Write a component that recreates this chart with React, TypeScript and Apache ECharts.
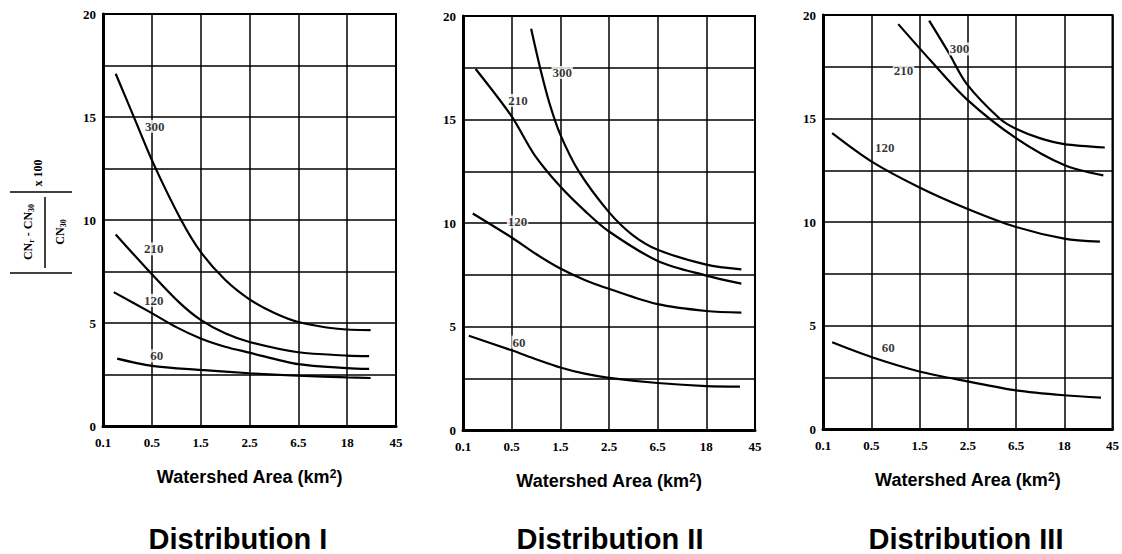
import React, { useEffect, useRef } from "react";
import * as echarts from "echarts";

// ---- data (x in tick-index units: 0→0.1, 1→0.5, 2→1.5, 3→2.5, 4→6.5, 5→18, 6→45) ----
const xTickLabels = ["0.1", "0.5", "1.5", "2.5", "6.5", "18", "45"];
const yTickStep = 2.5;
const curveNames = ["300", "210", "120", "60"];
const panelTitles = ["Distribution I", "Distribution II", "Distribution III"];

const dist1_300 = [[0.26, 17.1], [0.65, 14.9], [1.04, 12.7], [1.6, 10.0], [2, 8.45], [2.5, 7.1], [3, 6.15], [3.5, 5.5], [4, 5.05], [4.8, 4.72], [5.48, 4.65]];
const dist1_210 = [[0.26, 9.3], [0.93, 7.55], [1.56, 6.0], [2, 5.15], [2.5, 4.5], [3, 4.08], [4, 3.58], [5, 3.42], [5.45, 3.39]];
const dist1_120 = [[0.22, 6.5], [1, 5.48], [1.5, 4.8], [2, 4.25], [2.5, 3.85], [3, 3.56], [4, 3.0], [5, 2.81], [5.45, 2.77]];
const dist1_60 = [[0.29, 3.27], [1, 2.92], [2, 2.72], [3, 2.56], [4, 2.44], [5, 2.36], [5.48, 2.33]];

const dist2_300 = [[1.4, 19.38], [1.59, 17.44], [1.78, 15.76], [2, 14.27], [2.38, 12.49], [2.99, 10.55], [3.48, 9.43], [4, 8.71], [5, 7.99], [5.72, 7.76]];
const dist2_210 = [[0.26, 17.44], [1, 15.15], [1.46, 13.32], [2, 11.76], [2.52, 10.55], [3, 9.59], [4, 8.17], [5, 7.46], [5.72, 7.07]];
const dist2_120 = [[0.2, 10.46], [1, 9.3], [1.5, 8.5], [2, 7.8], [2.5, 7.25], [3, 6.82], [4, 6.08], [5, 5.75], [5.72, 5.67]];
const dist2_60 = [[0.12, 4.55], [1, 3.85], [1.5, 3.42], [2, 3.02], [2.5, 2.72], [3, 2.52], [4, 2.27], [5, 2.12], [5.69, 2.1]];

const dist3_300 = [[2.2, 19.73], [2.6, 18.2], [2.97, 16.7], [3.66, 15.0], [4, 14.5], [4.49, 14.05], [5, 13.76], [5.84, 13.6]];
const dist3_210 = [[1.56, 19.56], [2.23, 17.8], [2.97, 15.95], [4, 14.05], [5, 12.75], [5.81, 12.25]];
const dist3_120 = [[0.19, 14.29], [1, 12.93], [2, 11.67], [3, 10.63], [4, 9.76], [5, 9.2], [5.74, 9.05]];
const dist3_60 = [[0.19, 4.19], [1, 3.48], [2, 2.78], [3, 2.3], [4, 1.87], [5, 1.63], [5.76, 1.52]];

const labels1 = [[1.06, 14.55, "300"], [1.04, 8.6, "210"], [1.04, 6.1, "120"], [1.1, 3.4, "60"]];
const labels2 = [[2.04, 17.27, "300"], [1.13, 15.92, "210"], [1.12, 10.05, "120"], [1.15, 4.25, "60"]];
const labels3 = [[2.83, 18.36, "300"], [1.67, 17.3, "210"], [1.28, 13.6, "120"], [1.35, 3.95, "60"]];

const panels = [
  { curves: [dist1_300, dist1_210, dist1_120, dist1_60], labels: labels1 },
  { curves: [dist2_300, dist2_210, dist2_120, dist2_60], labels: labels2 },
  { curves: [dist3_300, dist3_210, dist3_120, dist3_60], labels: labels3 },
];

// ---- layout ----
const gridBoxes = [
  { left: 103, top: 14, width: 293, height: 412 },
  { left: 463, top: 16, width: 292, height: 414 },
  { left: 823, top: 15, width: 290, height: 414 },
];

const tickFont = { fontFamily: "Liberation Serif", fontWeight: "bold" as const, fontSize: 13, color: "#000" };

export default function App() {
  const ref = useRef<HTMLDivElement>(null);
  useEffect(() => {
    if (!ref.current) return;
    const chart = echarts.init(ref.current, undefined, { renderer: "svg" });

    const grid = gridBoxes.map((g) => ({
      ...g,
      show: true,
      borderColor: "#000",
      borderWidth: 2,
      backgroundColor: "transparent",
    }));

    const xAxis = gridBoxes.map((_, i) => ({
      type: "value",
      gridIndex: i,
      min: 0,
      max: 6,
      interval: 1,
      name: "Watershed Area (km{sup|2})",
      nameLocation: "middle",
      nameGap: 42,
      nameTextStyle: {
        fontFamily: "Liberation Sans",
        fontWeight: "bold",
        fontSize: 18,
        color: "#000",
        rich: {
          sup: { fontFamily: "Liberation Sans", fontWeight: "bold", fontSize: 12, verticalAlign: "top", color: "#000" },
        },
      },
      axisLine: { show: true, lineStyle: { color: "#000", width: 3 } },
      axisTick: { show: false },
      axisLabel: { ...tickFont, margin: 10, formatter: (v: number) => xTickLabels[Math.round(v)] ?? "" },
      splitLine: { show: true, lineStyle: { color: "#000", width: 1.5 } },
    }));

    const yAxis = gridBoxes.map((_, i) => ({
      type: "value",
      gridIndex: i,
      min: 0,
      max: 20,
      interval: yTickStep,
      axisLine: { show: true, lineStyle: { color: "#000", width: 3 } },
      axisTick: { show: false },
      axisLabel: { ...tickFont, margin: 7, formatter: (v: number) => (v % 5 === 0 ? String(v) : "") },
      splitLine: { show: true, lineStyle: { color: "#000", width: 1.5 } },
    }));

    const series: any[] = [];
    panels.forEach((p, i) => {
      p.curves.forEach((data, k) => {
        series.push({
          type: "line",
          name: `${panelTitles[i]} ${curveNames[k]}`,
          xAxisIndex: i,
          yAxisIndex: i,
          data,
          smooth: 0.3,
          symbol: "none",
          lineStyle: { color: "#000", width: 2.2 },
          z: 3,
        });
      });
      series.push({
        type: "scatter",
        xAxisIndex: i,
        yAxisIndex: i,
        data: p.labels,
        symbolSize: 1,
        itemStyle: { color: "transparent" },
        z: 5,
        label: {
          show: true,
          position: "inside",
          formatter: (q: any) => q.value[2],
          fontFamily: "Liberation Serif",
          fontWeight: "bold",
          fontSize: 13,
          color: "#000",
          backgroundColor: "#fff",
          padding: [0, 1],
        },
      });
    });

    const titleCenters = [238, 610, 966];
    const graphic: any[] = titleCenters.map((cx, i) => ({
      type: "text",
      x: cx,
      y: 539,
      style: {
        text: panelTitles[i],
        fontFamily: "Liberation Sans",
        fontWeight: "bold",
        fontSize: 29,
        fill: "#000",
        align: "center",
        verticalAlign: "middle",
      },
    }));

    const labRich = {
      n: { fontFamily: "Liberation Serif", fontWeight: "bold", fontSize: 12, fill: "#000", color: "#000", lineHeight: 15, verticalAlign: "middle" },
      s: { fontFamily: "Liberation Serif", fontWeight: "bold", fontSize: 8, fill: "#000", color: "#000", lineHeight: 15, verticalAlign: "bottom" },
    };
    graphic.push(
      { type: "line", shape: { x1: 10, y1: 192, x2: 72, y2: 192 }, style: { stroke: "#000", lineWidth: 1.5 } },
      { type: "line", shape: { x1: 10, y1: 273, x2: 72, y2: 273 }, style: { stroke: "#000", lineWidth: 1.5 } },
      { type: "line", shape: { x1: 45, y1: 197, x2: 45, y2: 268 }, style: { stroke: "#000", lineWidth: 1.5 } },
      {
        type: "text",
        x: 28,
        y: 232,
        rotation: Math.PI / 2,
        style: { text: "{n|CN}{s|r}{n| - CN}{s|30}", rich: labRich, align: "center", verticalAlign: "middle" },
      },
      {
        type: "text",
        x: 60,
        y: 232,
        rotation: Math.PI / 2,
        style: { text: "{n|CN}{s|30}", rich: labRich, align: "center", verticalAlign: "middle" },
      },
      {
        type: "text",
        x: 38,
        y: 173,
        rotation: Math.PI / 2,
        style: { text: "{n|x 100}", rich: labRich, align: "center", verticalAlign: "middle" },
      }
    );

    chart.setOption({
      animation: false,
      backgroundColor: "#fff",
      grid,
      xAxis,
      yAxis,
      series,
      graphic,
    });
    return () => chart.dispose();
  }, []);

  return <div ref={ref} style={{ position: "absolute", left: 0, top: 0, width: 1122, height: 554 }} />;
}
